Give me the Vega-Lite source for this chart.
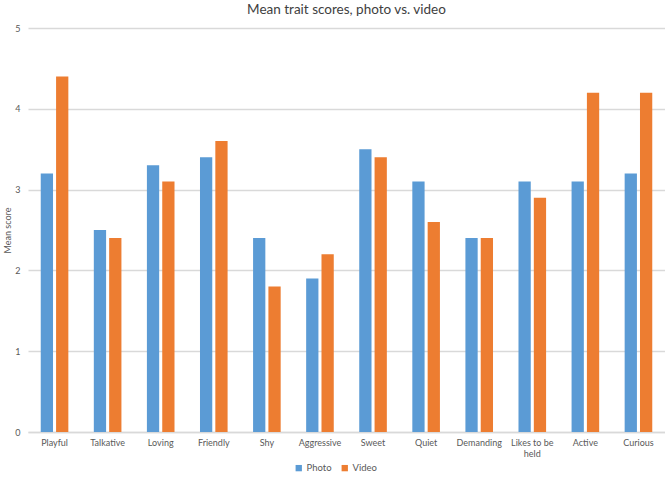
{
  "$schema": "https://vega.github.io/schema/vega-lite/v6.json",
  "autosize": "none",
  "width": 637,
  "height": 404,
  "padding": {"left": 28, "top": 28, "right": 0, "bottom": 48},
  "background": "white",
  "title": {"text": "Mean trait scores, photo vs. video", "fontSize": 13.5, "font": "Lato", "fontWeight": "normal", "color": "#404040", "offset": 8, "anchor": "middle"},
  "config": {"view": {"stroke": null}, "font": "Lato"},
  "data": {"values": [
    {"trait": "Playful", "type": "Photo", "score": 3.2},
    {"trait": "Playful", "type": "Video", "score": 4.4},
    {"trait": "Talkative", "type": "Photo", "score": 2.5},
    {"trait": "Talkative", "type": "Video", "score": 2.4},
    {"trait": "Loving", "type": "Photo", "score": 3.3},
    {"trait": "Loving", "type": "Video", "score": 3.1},
    {"trait": "Friendly", "type": "Photo", "score": 3.4},
    {"trait": "Friendly", "type": "Video", "score": 3.6},
    {"trait": "Shy", "type": "Photo", "score": 2.4},
    {"trait": "Shy", "type": "Video", "score": 1.8},
    {"trait": "Aggressive", "type": "Photo", "score": 1.9},
    {"trait": "Aggressive", "type": "Video", "score": 2.2},
    {"trait": "Sweet", "type": "Photo", "score": 3.5},
    {"trait": "Sweet", "type": "Video", "score": 3.4},
    {"trait": "Quiet", "type": "Photo", "score": 3.1},
    {"trait": "Quiet", "type": "Video", "score": 2.6},
    {"trait": "Demanding", "type": "Photo", "score": 2.4},
    {"trait": "Demanding", "type": "Video", "score": 2.4},
    {"trait": "Likes to be held", "type": "Photo", "score": 3.1},
    {"trait": "Likes to be held", "type": "Video", "score": 2.9},
    {"trait": "Active", "type": "Photo", "score": 3.1},
    {"trait": "Active", "type": "Video", "score": 4.2},
    {"trait": "Curious", "type": "Photo", "score": 3.2},
    {"trait": "Curious", "type": "Video", "score": 4.2}
  ]},
  "mark": {"type": "bar"},
  "encoding": {
    "x": {
      "field": "trait", "type": "nominal", "sort": null,
      "scale": {"paddingInner": 0.48, "paddingOuter": 0.24},
      "axis": {
        "title": null, "labelAngle": 0, "ticks": false, "domainColor": "#d9d9d9", "domainWidth": 1.5,
        "labelColor": "#595959", "labelFontSize": 9, "labelPadding": 6,
        "labelExpr": "datum.value == 'Likes to be held' ? ['Likes to be', 'held'] : datum.value"
      }
    },
    "xOffset": {"field": "type", "type": "nominal", "scale": {"paddingInner": 0.2}},
    "y": {
      "field": "score", "type": "quantitative",
      "scale": {"domain": [0, 5]},
      "axis": {
        "title": "Mean score", "titleFontWeight": "normal", "titleFontSize": 9, "titleColor": "#595959", "titleX": -21, "titleBaseline": "middle",
        "values": [0, 1, 2, 3, 4, 5], "domain": false, "ticks": false, "labelOverlap": false,
        "labelColor": "#595959", "labelFontSize": 9, "labelPadding": 8,
        "gridColor": "#d9d9d9", "gridWidth": 1.5
      }
    },
    "color": {
      "field": "type", "type": "nominal",
      "scale": {"domain": ["Photo", "Video"], "range": ["#5B9BD5", "#ED7D31"]},
      "legend": {"title": null, "orient": "none", "legendX": 266, "legendY": 435, "direction": "horizontal", "symbolType": "square", "symbolSize": 40, "labelFontSize": 9.5, "labelColor": "#595959", "labelOffset": 3, "columnPadding": 8, "symbolStrokeWidth": 0}
    }
  }
}
